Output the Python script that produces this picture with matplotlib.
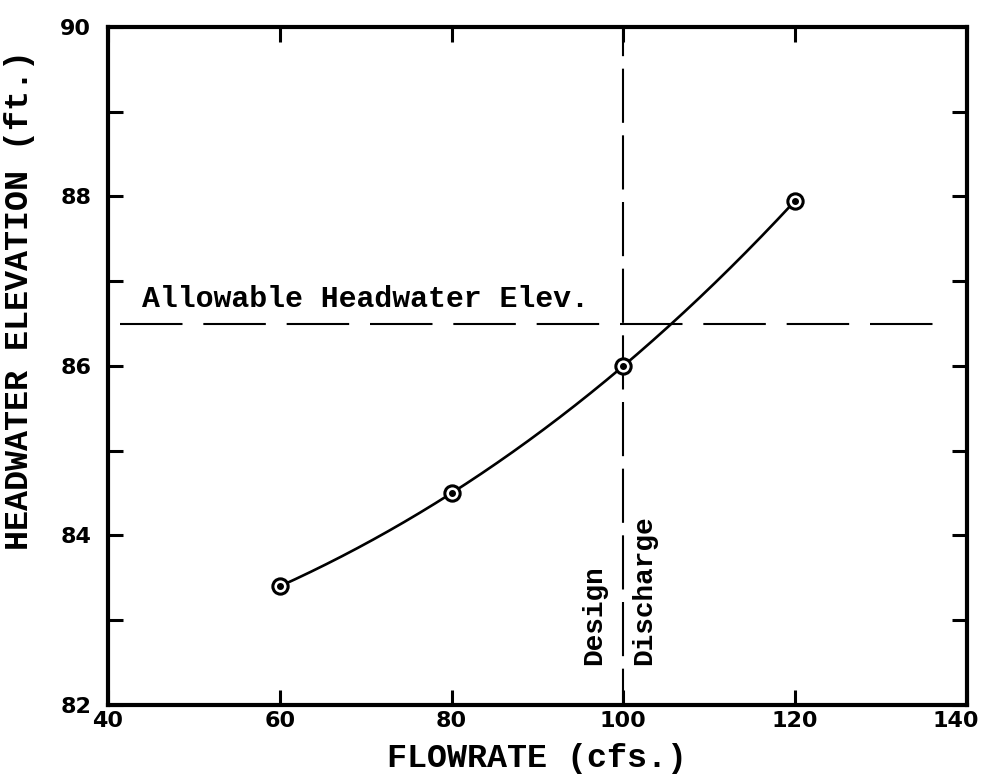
import numpy as np
import matplotlib
matplotlib.use('Agg')
import matplotlib.pyplot as plt
from matplotlib.transforms import ScaledTranslation

# Datos
flowrate = [60, 80, 100, 120]            # cfs
headwater = [83.4, 84.5, 86.0, 87.95]    # ft
allowable_elev = 86.5
design_q = 100

x_major = [40, 60, 80, 100, 120, 140]
y_major = [82, 84, 86, 88, 90]
y_minor = [83, 85, 87, 89]

mono = 'Liberation Mono'

fig = plt.figure(figsize=(9.85, 7.8), dpi=100)
ax = fig.add_axes([0.1096, 0.0962, 0.8721, 0.8692])

# Curva suave a través de los puntos (polinomio cúbico)
coef = np.polyfit(flowrate, headwater, 3)
xs = np.linspace(flowrate[0], flowrate[-1], 200)
ax.plot(xs, np.polyval(coef, xs), color='black', lw=1.9, zorder=3)

# Marcadores con punto central
ax.plot(flowrate, headwater, 'o', ms=11, mfc='white', mec='black', mew=2.2, zorder=4)
ax.plot(flowrate, headwater, 'o', ms=4, color='black', zorder=5)

# Línea de elevación permitida
ax.plot([41.4, 138], [allowable_elev, allowable_elev], color='black', lw=1.5,
        linestyle=(0, (30, 10)), zorder=2)
ax.text(44, allowable_elev + 0.12, 'Allowable Headwater Elev.', fontfamily=mono,
        fontweight='bold', fontsize=21.5, ha='left', va='bottom')

# Línea del caudal de diseño
ax.plot([design_q, design_q], [90, 82], color='black', lw=1.5,
        linestyle=(12, (26, 6)), zorder=2)
ax.text(design_q - 3.4, 82.47, 'Design', fontfamily=mono, fontweight='bold',
        fontsize=20, rotation=90, ha='center', va='bottom')
ax.text(design_q + 2.4, 82.47, 'Discharge', fontfamily=mono, fontweight='bold',
        fontsize=20, rotation=90, ha='center', va='bottom')

ax.set_xlim(40, 140)
ax.set_ylim(82, 90)
ax.set_xticks(x_major)
ax.set_yticks(y_major)
ax.set_yticks(y_minor, minor=True)

for s in ax.spines.values():
    s.set_linewidth(3)

ax.tick_params(axis='both', which='both', direction='in', length=11, width=2.2,
               top=True, right=True, labelsize=16)
ax.tick_params(axis='x', pad=4)
ax.tick_params(axis='y', pad=12)
for lab in ax.get_xticklabels() + ax.get_yticklabels():
    lab.set_fontweight('bold')

# Desplazar la etiqueta 140 hacia la izquierda para que no se corte
last = ax.xaxis.get_major_ticks()[-1].label1
last.set_transform(last.get_transform() + ScaledTranslation(-11 / 100, 0, fig.dpi_scale_trans))

fig.text(537 / 985, 1 - 758 / 780, 'FLOWRATE (cfs.)', fontfamily=mono,
         fontweight='bold', fontsize=24, ha='center', va='center')
fig.text(20 / 985, 1 - 300 / 780, 'HEADWATER ELEVATION (ft.)', fontfamily=mono,
         fontweight='bold', fontsize=24, ha='center', va='center', rotation=90)

fig.savefig('out.png', dpi=100)
